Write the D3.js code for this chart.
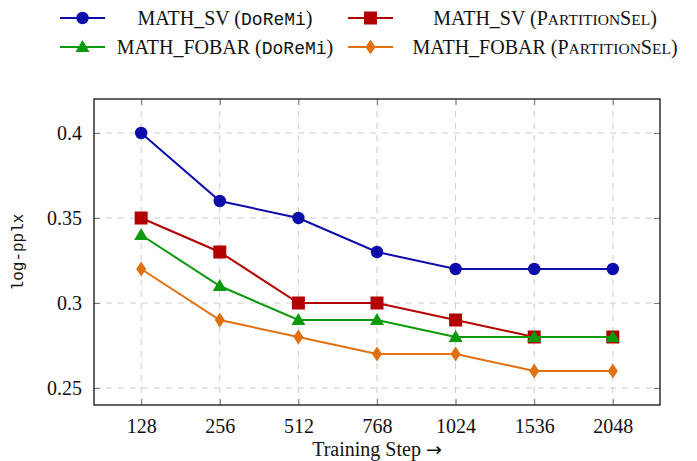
<!DOCTYPE html>
<html>
<head>
<meta charset="utf-8">
<script src="https://cdn.jsdelivr.net/npm/d3@7"></script>
<style>
  body { margin: 0; background: #fff; }
  svg text { font-family: "Liberation Serif", "DejaVu Serif", serif; fill: #111; }
  .tt { font-family: "Liberation Mono", "DejaVu Sans Mono", monospace; }
</style>
</head>
<body>
<svg id="chart" width="697" height="461"></svg>
<script>
// Training steps (categorical x) and log-perplexity per method/dataset
const steps = ["128", "256", "512", "768", "1024", "1536", "2048"];
const svDoReMi = [0.40, 0.36, 0.35, 0.33, 0.32, 0.32, 0.32];
const svPartitionSel = [0.35, 0.33, 0.30, 0.30, 0.29, 0.28, 0.28];
const fobarDoReMi = [0.34, 0.31, 0.29, 0.29, 0.28, 0.28, 0.28];
const fobarPartitionSel = [0.32, 0.29, 0.28, 0.27, 0.27, 0.26, 0.26];
const yTicks = [0.25, 0.30, 0.35, 0.40];
const yTickLabels = ["0.25", "0.3", "0.35", "0.4"];

const series = [
  { task: "MATH_SV", method: "DoReMi", values: svDoReMi, color: "#0c0cab", shape: "circle" },
  { task: "MATH_SV", method: "PartitionSel", values: svPartitionSel, color: "#b20000", shape: "square" },
  { task: "MATH_FOBAR", method: "DoReMi", values: fobarDoReMi, color: "#0b9a0b", shape: "triangle" },
  { task: "MATH_FOBAR", method: "PartitionSel", values: fobarPartitionSel, color: "#e07010", shape: "diamond" }
];

const svg = d3.select("#chart");
const box = { left: 94, right: 660, top: 99, bottom: 405 };

const x = d3.scalePoint().domain(steps).range([box.left, box.right]).padding(0.6);
const y = d3.scaleLinear().domain([0.24, 0.42]).range([box.bottom, box.top]);

// dashed grid
const grid = svg.append("g");
grid.selectAll("line.v").data(steps).join("line")
  .attr("x1", d => x(d)).attr("x2", d => x(d))
  .attr("y1", box.top).attr("y2", box.bottom)
  .attr("stroke", "#cccccc").attr("stroke-width", 1).attr("stroke-dasharray", "6,6");
grid.selectAll("line.h").data(yTicks).join("line")
  .attr("x1", box.left).attr("x2", box.right)
  .attr("y1", d => y(d)).attr("y2", d => y(d))
  .attr("stroke", "#cccccc").attr("stroke-width", 1).attr("stroke-dasharray", "6,6");

// axes with inward tick marks
const xAxisB = d3.axisBottom(x).tickSize(-6).tickPadding(14);
const xAxisT = d3.axisTop(x).tickSize(-6).tickFormat("");
const yAxisL = d3.axisLeft(y).tickValues(yTicks).tickSize(-6).tickPadding(12)
  .tickFormat((d, i) => yTickLabels[i]);
const yAxisR = d3.axisRight(y).tickValues(yTicks).tickSize(-6).tickFormat("");

function styleAxis(g) {
  g.select(".domain").remove();
  g.selectAll(".tick line").attr("stroke", "#777");
  g.selectAll(".tick text").attr("font-size", 20).attr("fill", "#111")
    .attr("font-family", "'Liberation Serif', 'DejaVu Serif', serif");
}
svg.append("g").attr("transform", `translate(0,${box.bottom})`).call(xAxisB).call(styleAxis);
svg.append("g").attr("transform", `translate(0,${box.top})`).call(xAxisT).call(styleAxis);
svg.append("g").attr("transform", `translate(${box.left},0)`).call(yAxisL).call(styleAxis);
svg.append("g").attr("transform", `translate(${box.right},0)`).call(yAxisR).call(styleAxis);

svg.append("rect")
  .attr("x", box.left).attr("y", box.top)
  .attr("width", box.right - box.left).attr("height", box.bottom - box.top)
  .attr("fill", "none").attr("stroke", "#111").attr("stroke-width", 1.3);

// marker drawing
function marker(sel, shape, color) {
  if (shape === "circle") {
    sel.append("circle").attr("r", 6.2).attr("fill", color);
  } else if (shape === "square") {
    sel.append("rect").attr("x", -6.5).attr("y", -6.5).attr("width", 13).attr("height", 13).attr("fill", color);
  } else if (shape === "triangle") {
    sel.append("path").attr("d", "M0,-7 L7,5 L-7,5 Z").attr("fill", color);
  } else {
    sel.append("path").attr("d", "M0,-7.5 L5,0 L0,7.5 L-5,0 Z").attr("fill", color);
  }
}

const line = d3.line().x((d, i) => x(steps[i])).y(d => y(d));
series.forEach(s => {
  const g = svg.append("g");
  g.append("path").datum(s.values).attr("d", line)
    .attr("fill", "none").attr("stroke", s.color).attr("stroke-width", 2);
  s.values.forEach((v, i) => {
    const m = g.append("g").attr("transform", `translate(${x(steps[i])},${y(v)})`);
    marker(m, s.shape, s.color);
  });
});

// axis titles
const xTitle = svg.append("text").attr("x", (box.left + box.right) / 2).attr("y", 456)
  .attr("text-anchor", "middle").attr("font-size", 20);
xTitle.append("tspan").text("Training Step ");
xTitle.append("tspan").attr("font-family", "'DejaVu Sans', sans-serif").attr("font-size", 19).text("\u2192");
svg.append("text").attr("class", "tt")
  .attr("transform", `translate(23,${(box.top + box.bottom) / 2}) rotate(-90)`)
  .attr("text-anchor", "middle").attr("font-size", 16).text("log-pplx");

// legend (2 x 2, text centred in each column)
const legendCols = [{ lx: 60, cx: 225 }, { lx: 348, cx: 545 }];
const legendRows = [18, 47];
series.forEach((s, i) => {
  const col = legendCols[i % 2];
  const ry = legendRows[Math.floor(i / 2)];
  const g = svg.append("g");
  g.append("line").attr("x1", col.lx).attr("x2", col.lx + 45)
    .attr("y1", ry).attr("y2", ry).attr("stroke", s.color).attr("stroke-width", 2);
  const m = g.append("g").attr("transform", `translate(${col.lx + 22.5},${ry})`);
  marker(m, s.shape, s.color);
  const t = g.append("text").attr("x", col.cx).attr("y", ry + 7)
    .attr("text-anchor", "middle").attr("font-size", 20);
  t.append("tspan").text(s.task + " (");
  if (s.method === "DoReMi") {
    t.append("tspan").attr("class", "tt").attr("font-size", 18).text("DoReMi");
  } else {
    t.append("tspan").text("P");
    t.append("tspan").attr("font-size", 15.5).text("ARTITION");
    t.append("tspan").text("S");
    t.append("tspan").attr("font-size", 15.5).text("EL");
  }
  t.append("tspan").text(")");
});
</script>
</body>
</html>
